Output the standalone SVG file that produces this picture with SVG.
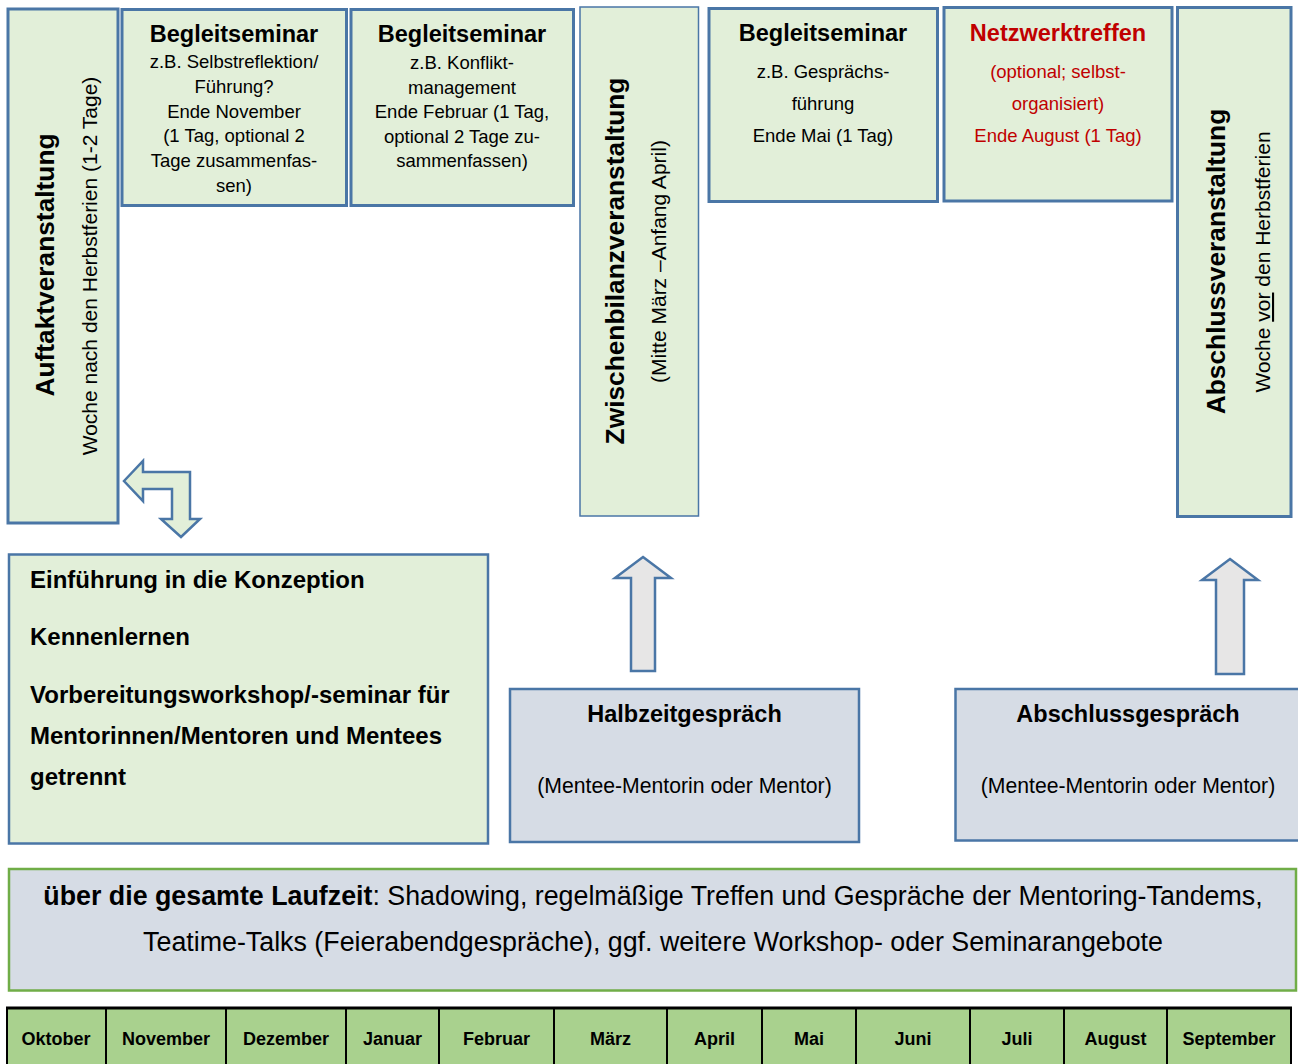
<svg xmlns="http://www.w3.org/2000/svg" width="1298" height="1064" viewBox="0 0 1298 1064">
<style>
text{font-family:"Liberation Sans",Arial,sans-serif;fill:#000}
.g{fill:#e2efd9;stroke:#4a76a6;stroke-width:3}
.gt{fill:#e2efd9;stroke:#4a76a6;stroke-width:1.5}
.b{fill:#d6dce5;stroke:#4a76a6;stroke-width:2.5}
.t{font-weight:bold;font-size:23.5px;text-anchor:middle}
.s{font-size:18.5px;text-anchor:middle}
.vt{font-weight:bold;font-size:26.3px;text-anchor:middle}
.vs{font-size:21px;text-anchor:middle}
.red{fill:#c00000}
.e{font-weight:bold;font-size:24px}
.m{font-weight:bold;font-size:18px;text-anchor:middle}
.arr{stroke:#4a76a6;stroke-width:2.5;stroke-linejoin:miter}
</style>

<g id="auftakt">
<rect class="g" x="8" y="9" width="110" height="514"/>
<text class="vt" transform="translate(53.5,265) rotate(-90)">Auftaktveranstaltung</text>
<text class="vs" transform="translate(96.5,266) rotate(-90)">Woche nach den Herbstferien (1-2 Tage)</text>
</g>

<g id="begleit1">
<rect class="g" x="122" y="9.5" width="224.5" height="196"/>
<text class="t" x="234" y="42">Begleitseminar</text>
<text class="s" x="234" y="68">z.B. Selbstreflektion/</text>
<text class="s" x="234" y="93">Führung?</text>
<text class="s" x="234" y="117.5">Ende November</text>
<text class="s" x="234" y="142">(1 Tag, optional 2</text>
<text class="s" x="234" y="167">Tage zusammenfas-</text>
<text class="s" x="234" y="192">sen)</text>
</g>

<g id="begleit2">
<rect class="g" x="351" y="9.5" width="222.5" height="196"/>
<text class="t" x="462" y="42">Begleitseminar</text>
<text class="s" x="462" y="69">z.B. Konflikt-</text>
<text class="s" x="462" y="94">management</text>
<text class="s" x="462" y="118">Ende Februar (1 Tag,</text>
<text class="s" x="462" y="143">optional 2 Tage zu-</text>
<text class="s" x="462" y="167">sammenfassen)</text>
</g>

<g id="zwischenbilanz">
<rect class="gt" x="580" y="7" width="118.5" height="509"/>
<text class="vt" transform="translate(623.5,261) rotate(-90)">Zwischenbilanzveranstaltung</text>
<text class="vs" transform="translate(666,261.5) rotate(-90)">(Mitte März –Anfang April)</text>
</g>

<g id="begleit3">
<rect class="g" x="709" y="8.5" width="228.5" height="193"/>
<text class="t" x="823" y="41">Begleitseminar</text>
<text class="s" x="823" y="77.5">z.B. Gesprächs-</text>
<text class="s" x="823" y="109.5">führung</text>
<text class="s" x="823" y="141.5">Ende Mai (1 Tag)</text>
</g>

<g id="netzwerk">
<rect class="g" x="944" y="7.5" width="228" height="193.5"/>
<text class="t red" x="1058" y="41">Netzwerktreffen</text>
<text class="s red" x="1058" y="77.5">(optional; selbst-</text>
<text class="s red" x="1058" y="109.5">organisiert)</text>
<text class="s red" x="1058" y="141.5">Ende August (1 Tag)</text>
</g>

<g id="abschluss">
<rect class="g" x="1177.5" y="7.5" width="113.5" height="509"/>
<text class="vt" transform="translate(1225,261.5) rotate(-90)">Abschlussveranstaltung</text>
<text class="vs" transform="translate(1270,262) rotate(-90)">Woche <tspan text-decoration="underline">vor</tspan> den Herbstferien</text>
</g>

<g id="einfuehrung">
<rect class="g" x="9" y="554.5" width="479" height="289" style="stroke-width:2.5"/>
<text class="e" x="30" y="588">Einführung in die Konzeption</text>
<text class="e" x="30" y="645">Kennenlernen</text>
<text class="e" x="30" y="703">Vorbereitungsworkshop/-seminar für</text>
<text class="e" x="30" y="744">Mentorinnen/Mentoren und Mentees</text>
<text class="e" x="30" y="785">getrennt</text>
</g>

<g id="halbzeit">
<rect class="b" x="510" y="689" width="349" height="153"/>
<text class="t" x="684.5" y="721.5" style="font-size:23.5px">Halbzeitgespräch</text>
<text class="vs" x="684.5" y="793" style="font-size:21.2px">(Mentee-Mentorin oder Mentor)</text>
</g>

<g id="abschlussgespraech">
<rect class="b" x="955.5" y="689" width="360" height="151.5"/>
<text class="t" x="1128" y="721.5" style="font-size:23.5px">Abschlussgespräch</text>
<text class="vs" x="1128" y="793" style="font-size:21.2px">(Mentee-Mentorin oder Mentor)</text>
</g>

<g id="laufzeit">
<rect x="9" y="869" width="1287" height="121.5" fill="#d6dce5" stroke="#70ad47" stroke-width="2.5"/>
<text x="653" y="905" style="font-size:26.8px;text-anchor:middle"><tspan font-weight="bold">über die gesamte Laufzeit</tspan>: Shadowing, regelmäßige Treffen und Gespräche der Mentoring-Tandems,</text>
<text x="653" y="951" style="font-size:26.8px;text-anchor:middle">Teatime-Talks (Feierabendgespräche), ggf. weitere Workshop- oder Seminarangebote</text>
</g>

<g id="monate">
<rect x="7" y="1008" width="1284" height="60" fill="#a9d18e" stroke="#000" stroke-width="2"/>
<line x1="6" y1="1008" x2="1292" y2="1008" stroke="#000" stroke-width="3"/>
<g stroke="#000" stroke-width="2">
<line x1="106" y1="1008" x2="106" y2="1066"/>
<line x1="226" y1="1008" x2="226" y2="1066"/>
<line x1="346" y1="1008" x2="346" y2="1066"/>
<line x1="439" y1="1008" x2="439" y2="1066"/>
<line x1="554" y1="1008" x2="554" y2="1066"/>
<line x1="667" y1="1008" x2="667" y2="1066"/>
<line x1="762" y1="1008" x2="762" y2="1066"/>
<line x1="856" y1="1008" x2="856" y2="1066"/>
<line x1="970" y1="1008" x2="970" y2="1066"/>
<line x1="1064" y1="1008" x2="1064" y2="1066"/>
<line x1="1167" y1="1008" x2="1167" y2="1066"/>
</g>
<text class="m" x="56" y="1045">Oktober</text>
<text class="m" x="166" y="1045">November</text>
<text class="m" x="286" y="1045">Dezember</text>
<text class="m" x="392.5" y="1045">Januar</text>
<text class="m" x="496.5" y="1045">Februar</text>
<text class="m" x="610.5" y="1045">März</text>
<text class="m" x="714.5" y="1045">April</text>
<text class="m" x="809" y="1045">Mai</text>
<text class="m" x="913" y="1045">Juni</text>
<text class="m" x="1017" y="1045">Juli</text>
<text class="m" x="1115.5" y="1045">August</text>
<text class="m" x="1229" y="1045">September</text>
</g>

<g id="connectors">
<path class="arr" fill="#e2efd9" d="M124,481 L143,461 L143,472 L190,472 L190,519 L200,519 L181,537 L161,519 L172,519 L172,489 L143,489 L143,501 Z"/>
<path class="arr" fill="#e7e6e6" d="M643,557 L671,578 L655,578 L655,671 L631,671 L631,578 L615,578 Z"/>
<path class="arr" fill="#e7e6e6" d="M1230,559 L1258,580 L1244,580 L1244,674 L1216,674 L1216,580 L1202,580 Z"/>
</g>
</svg>
